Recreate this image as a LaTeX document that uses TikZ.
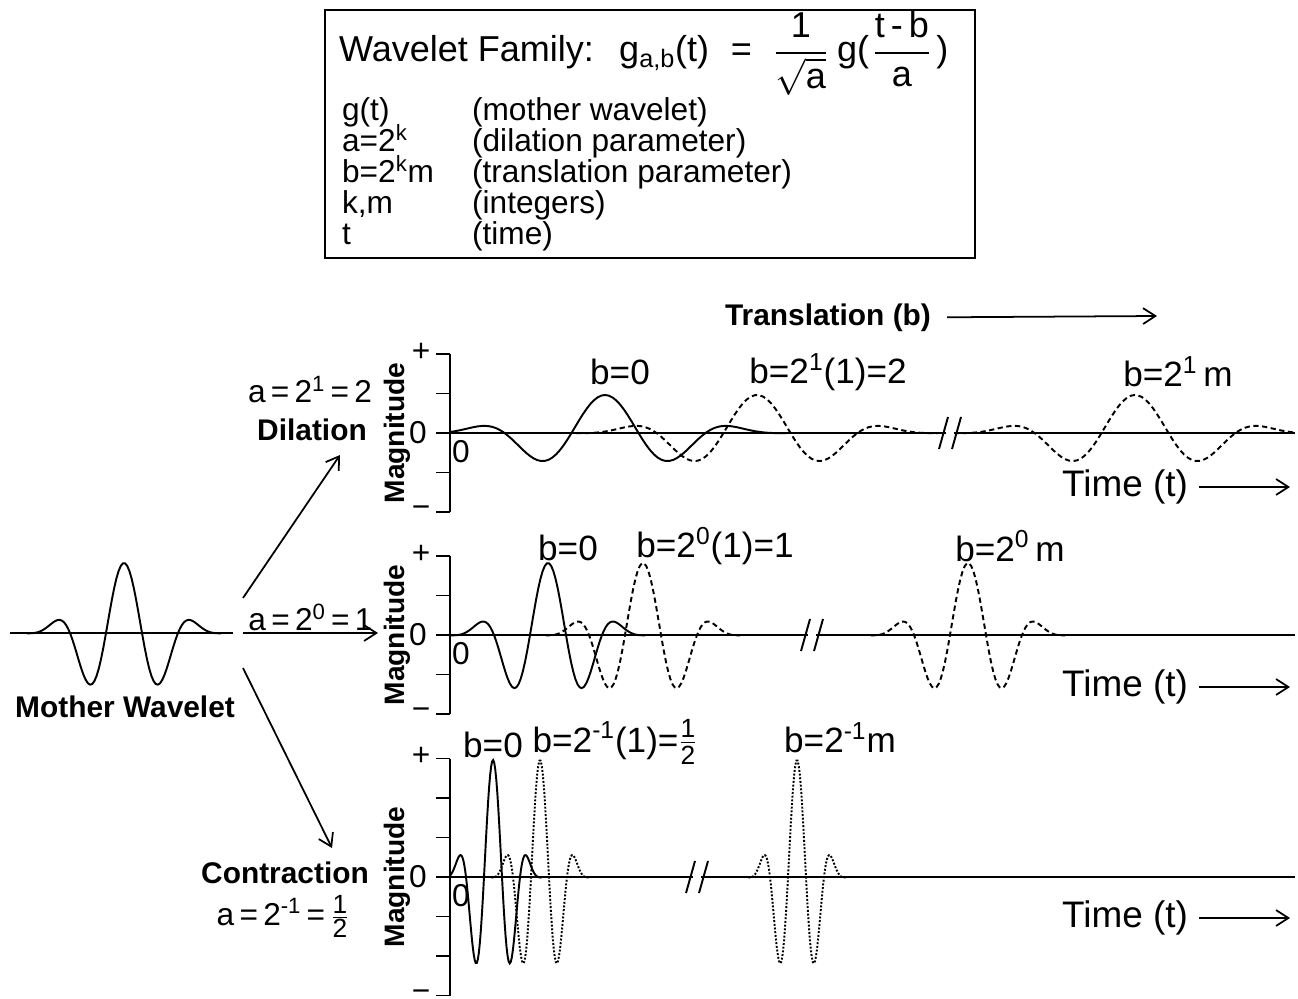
\documentclass[tikz,border=0pt]{standalone}
\usepackage{amsmath}
\usepackage{fontspec}
\setmainfont{Liberation Sans}
\usetikzlibrary{arrows,arrows.meta}
\tikzstyle{arrow} = [line width=1pt, ->, >={Straight Barb[length=7pt,width=9pt]}]
\tikzstyle{curve} = [line width=1.1pt, samples=90]
\tikzstyle{shifted} = [curve, densely dashed]
\tikzstyle{shiftedfine} = [curve, densely dotted]
\tikzstyle{txt} = [inner sep=1pt, font=\fontsize{18}{21}\selectfont]
\tikzstyle{blbl} = [inner sep=1pt, font=\fontsize{20}{23}\selectfont]
\tikzstyle{boldtxt} = [inner sep=1pt, font=\fontsize{17}{20}\selectfont\bfseries]
\tikzstyle{timetxt} = [inner sep=1pt, font=\fontsize{21}{24}\selectfont]
\tikzstyle{magtxt} = [inner sep=1pt, rotate=90, font=\fontsize{16}{19}\selectfont\bfseries]
\newcommand{\half}{\ensuremath{\genfrac{}{}{0.6pt}{1}{\mbox{\fontsize{15}{15}\selectfont 1}}{\mbox{\fontsize{15}{15}\selectfont 2}}}}

\begin{document}
\begin{tikzpicture}[x=0.2mm, y=-0.2mm,
    declare function={wav(\t)=cos(180*\t)*exp(-0.276*\t*\t-0.054*\t*\t*\t*\t);}]
    \useasboundingbox (0,0) rectangle (1298,999);

    % wavelet family box
    \node[draw, line width=1.2pt, minimum width=130mm, minimum height=49.6mm] (family) at (650,134) {};
    \node[txt, anchor=base west, font=\fontsize{20.5}{24}\selectfont] (famhead) at (337,62)
        {Wavelet Family:\hspace{0.7em}g\textsubscript{a,b}(t)\hspace{0.6em}=\hspace{0.6em}$\displaystyle\frac{\text{1}}{\sqrt{\text{a}}}$\hspace{0.25em}g(\hspace{0.1em}$\displaystyle\frac{\text{t\,-\,b}}{\text{a}}$\hspace{0.15em})};
    \foreach \sym/\desc [count=\i] in {g(t)/(mother wavelet), a=2\textsuperscript{k}/(dilation parameter),
        b=2\textsuperscript{k}m/(translation parameter), {k,m}/(integers), t/(time)} {
        \node[txt, anchor=base west] (sym\i) at (340,90+31*\i) {\sym};
        \node[txt, anchor=base west] (desc\i) at (470,90+31*\i) {\desc};
    }

    \node[boldtxt] (transl) at (828,318) {Translation (b)};
    \coordinate (translend) at (1157,316);
    \draw[arrow, shorten <=8pt] (transl) -- (translend);

    % mother wavelet and the three scales
    \draw[curve] (10,633) -- (233,633);
    \draw[curve, domain=-2.7:2.7] plot ({124+36*\x}, {633-70*wav(\x)});
    \node[boldtxt] (mother) at (125,707) {Mother Wavelet};
    \coordinate (mwup) at (243,598);
    \coordinate (mwmid) at (243,633);
    \coordinate (mwdown) at (243,668);
    \coordinate (dilend) at (340,455);
    \coordinate (unitend) at (378,633);
    \coordinate (conend) at (332,848);
    \draw[arrow] (mwup) -- (dilend);
    \draw[arrow] (mwmid) -- node[txt, above] (aunit) {a\,=\,2\textsuperscript{0}\,=\,1} (unitend);
    \draw[arrow] (mwdown) -- (conend);
    \node[txt] (adil) at (310,390) {a\,=\,2\textsuperscript{1}\,=\,2};
    \node[boldtxt] (dil) at (312,430) {Dilation};
    \node[boldtxt] (con) at (285,873) {Contraction};
    \node[txt, anchor=base] (acon) at (283,925) {a\,=\,2\textsuperscript{-1}\,=\,\half};

    % axes
    \foreach \y/\m in {433/4, 635/4, 877/6} {
        \draw[curve] (450,\y-\m*19.75) -- (450,\y+\m*19.75);
        \foreach \k in {0,...,\m}
            \draw[curve] (436,\y-\m*19.75+\k*39.5) -- (450,\y-\m*19.75+\k*39.5);
        \node[txt] (plus\y) at (421,\y-\m*19.75-2) {+};
        \node[txt] (minus\y) at (421,\y+\m*19.75) {\textminus};
        \node[txt] (zl\y) at (418,\y) {0};
        \node[txt] (zo\y) at (461,\y+19) {0};
        \node[magtxt] (mag\y) at (397,\y) {Magnitude};
    }
    \foreach \y/\bx in {433/950, 635/812, 877/697} {
        \draw[curve] (450,\y) -- (\bx-4,\y);
        \draw[curve] (\bx+4,\y) -- (1295,\y);
        \draw[curve] (\bx-11,\y+16) -- (\bx-2,\y-16);
        \draw[curve] (\bx+2,\y+16) -- (\bx+11,\y-16);
    }
    \foreach \y in {487, 687, 918} {
        \node[timetxt] (time\y) at (1125,\y) {Time (t)};
        \coordinate (timeend\y) at (1290,\y);
        \draw[arrow, shorten <=5pt] (time\y) -- (timeend\y);
    }

    % dilation a=2
    \draw[curve, domain=-2.3:2.7] plot ({605+67*\x}, {433-38*wav(\x)});
    \draw[shifted, domain=-2.7:2.7] plot ({757+67*\x}, {433-38*wav(\x)});
    \draw[shifted, domain=-2.7:2.39] plot ({1135+67*\x}, {433-38*wav(\x)});
    \node[blbl] (b0a) at (620,372) {b=0};
    \node[blbl] (b1a) at (828,372) {b=2\textsuperscript{1}(1)=2};
    \node[blbl] (bma) at (1178,372) {b=2\textsuperscript{1}\,m};

    % a=1
    \draw[curve, domain=-2.7:2.7] plot ({548+36*\x}, {635-72*wav(\x)});
    \draw[shifted, domain=-2.7:2.7] plot ({643+36*\x}, {635-72*wav(\x)});
    \draw[shifted, domain=-2.7:2.7] plot ({968+36*\x}, {635-72*wav(\x)});
    \node[blbl] (b0b) at (568,548) {b=0};
    \node[blbl] (b1b) at (715,546) {b=2\textsuperscript{0}(1)=1};
    \node[blbl] (bmb) at (1010,546) {b=2\textsuperscript{0}\,m};

    % contraction a=1/2
    \draw[curve, domain=-2.39:2.7] plot ({493+18*\x}, {877-117*wav(\x)});
    \draw[shiftedfine, domain=-2.7:2.7] plot ({540+18*\x}, {877-117*wav(\x)});
    \draw[shiftedfine, domain=-2.7:2.7] plot ({797+18*\x}, {877-117*wav(\x)});
    \node[blbl] (b0c) at (493,745) {b=0};
    \node[blbl, anchor=base] (b1c) at (615,752) {b=2\textsuperscript{-1}(1)=\half};
    \node[blbl] (bmc) at (840,738) {b=2\textsuperscript{-1}m};
\end{tikzpicture}
\end{document}
